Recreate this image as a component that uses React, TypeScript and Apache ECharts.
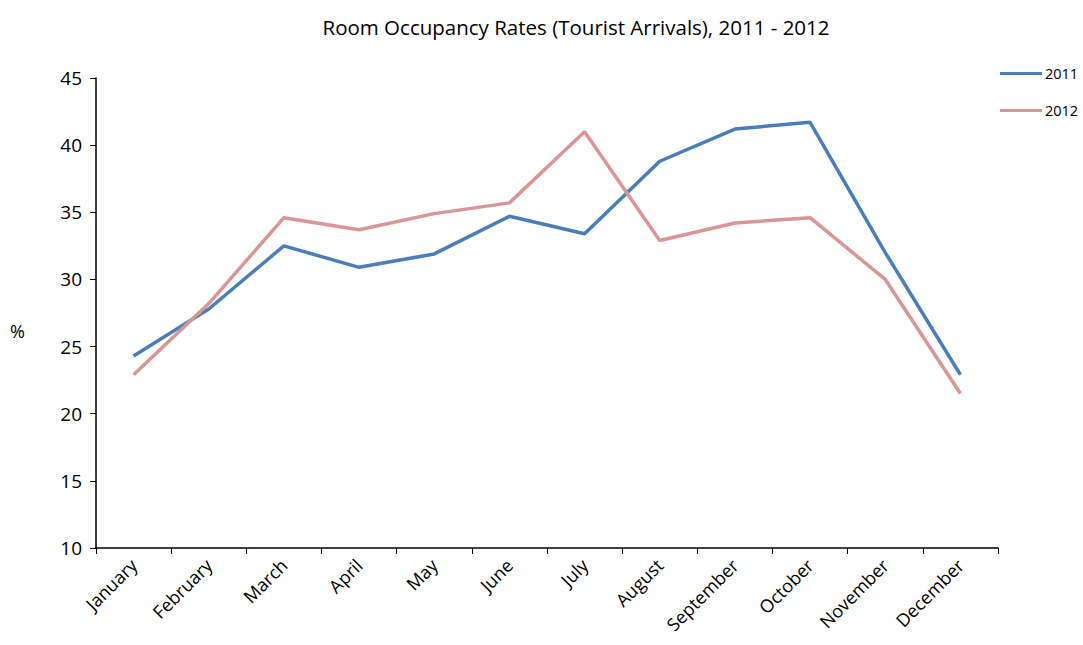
import React, { useEffect, useRef } from "react";
import * as echarts from "echarts";

const months = ["January","February","March","April","May","June","July","August","September","October","November","December"];
const occ2011 = [24.3, 27.8, 32.5, 30.9, 31.9, 34.7, 33.4, 38.8, 41.2, 41.7, 32.0, 22.9];
const occ2012 = [22.9, 28.2, 34.6, 33.7, 34.9, 35.7, 41.0, 32.9, 34.2, 34.6, 30.0, 21.5];
const seriesNames = ["2011", "2012"];
const FONT = "'Open Sans', sans-serif";

export default function App() {
  const ref = useRef<HTMLDivElement>(null);
  useEffect(() => {
    const chart = echarts.init(ref.current!, null, { renderer: "svg" });
    chart.setOption({
      animation: false,
      backgroundColor: "#ffffff",
      title: {
        text: "Room Occupancy Rates (Tourist Arrivals), 2011 - 2012",
        left: 571, top: 11, textAlign: "center",
        textStyle: { fontFamily: FONT, fontSize: 20.5, fontWeight: "normal", color: "#000" },
      },
      legend: {
        orient: "vertical", left: 998, top: 64, itemWidth: 42, itemHeight: 3,
        itemGap: 22, icon: "rect", padding: 2,
        textStyle: { fontFamily: FONT, fontSize: 14.5, color: "#000", padding: [0, 0, 0, -2] },
        data: seriesNames,
      },
      graphic: [
        { type: "text", left: 10, top: 322, style: { text: "%", fontFamily: FONT, fontSize: 18, fill: "#000" } },
      ],
      grid: { left: 96, right: 85, top: 78, bottom: 97 },
      xAxis: {
        type: "category", data: months, boundaryGap: true,
        axisLine: { lineStyle: { color: "#000", width: 1.5 } },
        axisTick: { show: true, inside: false, length: 6, alignWithLabel: false, lineStyle: { color: "#000" } },
        axisLabel: { rotate: 45, interval: 0, margin: 14, fontFamily: FONT, fontSize: 18, color: "#000" },
      },
      yAxis: {
        type: "value", min: 10, max: 45, interval: 5,
        axisLine: { show: true, lineStyle: { color: "#000", width: 1.5 } },
        axisTick: { show: true, length: 6, lineStyle: { color: "#000" } },
        splitLine: { show: false },
        axisLabel: { margin: 14, fontFamily: FONT, fontSize: 19, color: "#000" },
      },
      series: [
        { name: seriesNames[0], type: "line", data: occ2011, symbol: "none", lineStyle: { width: 3.5, color: "#4a7ebb" }, itemStyle: { color: "#4a7ebb" } },
        { name: seriesNames[1], type: "line", data: occ2012, symbol: "none", lineStyle: { width: 3.5, color: "#d99694" }, itemStyle: { color: "#d99694" } },
      ],
    });
    return () => chart.dispose();
  }, []);
  return <div ref={ref} style={{ width: 1083, height: 645, position: "absolute", left: 0, top: 0 }} />;
}
